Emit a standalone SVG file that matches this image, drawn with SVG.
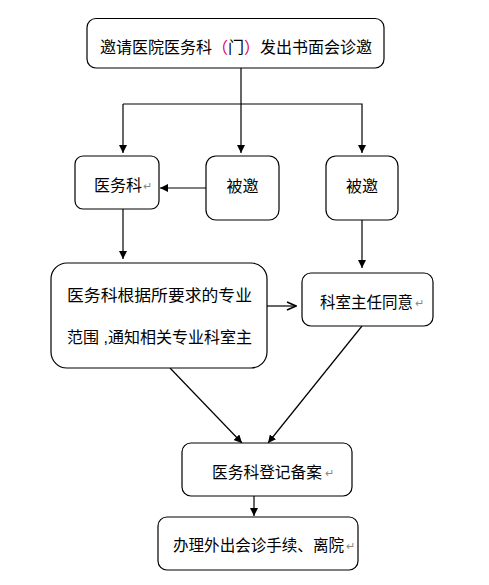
<svg xmlns="http://www.w3.org/2000/svg" width="489" height="585" viewBox="0 0 489 585">
<style>
.box{fill:#fff;stroke:#000;stroke-width:1.2}
.t{font-family:"Liberation Sans","Noto Sans CJK SC",sans-serif;font-size:16px;fill:#000;dominant-baseline:central}
.pm{fill:#888;font-size:11px}
.ln{stroke:#000;stroke-width:1.2;fill:none}
</style>
<defs>
<marker id="ah" viewBox="0 0 10 10" refX="10" refY="5" markerWidth="8" markerHeight="8" markerUnits="userSpaceOnUse" orient="auto">
<path d="M0,0 L10,5 L0,10 Z" fill="#000"/>
</marker>
<marker id="oh" viewBox="0 0 10 10" refX="10" refY="5" markerWidth="11" markerHeight="10" markerUnits="userSpaceOnUse" orient="auto">
<path d="M1,1 L10,5 L1,9" fill="none" stroke="#000" stroke-width="1.5"/>
</marker>
</defs>
<rect width="489" height="585" fill="#fff"/>
<g id="connectors">
<line class="ln" x1="241" y1="52" x2="241" y2="153" marker-end="url(#ah)"/>
<polyline class="ln" points="123,104 362,104 362,153" marker-end="url(#ah)"/>
<line class="ln" x1="123" y1="104" x2="123" y2="153" marker-end="url(#ah)"/>
<line class="ln" x1="206" y1="188" x2="160" y2="188" marker-end="url(#ah)"/>
<line class="ln" x1="123" y1="209" x2="123" y2="259" marker-end="url(#ah)"/>
<line class="ln" x1="362" y1="220" x2="362" y2="268" marker-end="url(#ah)"/>
<line class="ln" x1="267" y1="306" x2="296" y2="306" marker-end="url(#oh)"/>
<line class="ln" x1="170" y1="368" x2="242" y2="443" marker-end="url(#ah)"/>
<line class="ln" x1="362" y1="326" x2="268" y2="443" marker-end="url(#ah)"/>
<line class="ln" x1="254" y1="496" x2="254" y2="516" marker-end="url(#ah)"/>
</g>
<g id="n_top">
<rect class="box" x="87" y="18.5" width="297" height="49.5" rx="9"/>
<text class="t" x="100" y="47" textLength="272" lengthAdjust="spacingAndGlyphs">邀请医院医务科<tspan fill="#e0006a">（</tspan>门<tspan fill="#e0006a">）</tspan>发出书面会诊邀</text>
</g>
<g id="n_yiwuke">
<rect class="box" x="75" y="156" width="84" height="53" rx="8"/>
<text class="t" x="94" y="185">医务科</text>
<text class="t pm" x="143" y="186">↵</text>
</g>
<g id="n_beiyao1">
<rect class="box" x="206" y="156" width="73" height="64" rx="10"/>
<text class="t" x="242.5" y="186" text-anchor="middle">被邀</text>
</g>
<g id="n_beiyao2">
<rect class="box" x="326" y="156" width="72" height="64" rx="10"/>
<text class="t" x="362" y="186" text-anchor="middle">被邀</text>
</g>
<g id="n_notify">
<rect class="box" x="51" y="263" width="216" height="105" rx="16"/>
<text class="t" x="67" y="295" textLength="185" lengthAdjust="spacingAndGlyphs">医务科根据所要求的专业</text>
<text class="t" x="67" y="337" textLength="185" lengthAdjust="spacingAndGlyphs">范围 ,通知相关专业科室主</text>
</g>
<g id="n_director">
<rect class="box" x="302" y="273" width="131" height="53" rx="9"/>
<text class="t" x="320" y="302" textLength="93" lengthAdjust="spacingAndGlyphs">科室主任同意</text>
<text class="t pm" x="415" y="303">↵</text>
</g>
<g id="n_register">
<rect class="box" x="182" y="443" width="170" height="53" rx="9"/>
<text class="t" x="212" y="472" textLength="110" lengthAdjust="spacingAndGlyphs">医务科登记备案</text>
<text class="t pm" x="325" y="473">↵</text>
</g>
<g id="n_leave">
<rect class="box" x="158" y="517" width="200" height="53" rx="9"/>
<text class="t" x="173" y="545" style="font-size:15.4px" textLength="171" lengthAdjust="spacingAndGlyphs">办理外出会诊手续、离院</text>
<text class="t pm" x="346" y="546">↵</text>
</g>
</svg>
